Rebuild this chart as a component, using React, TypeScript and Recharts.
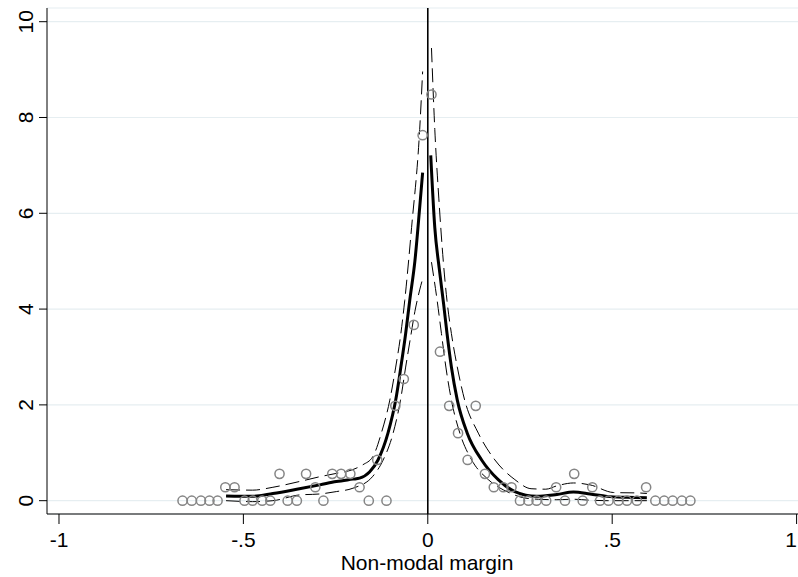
import { ComposedChart, Line, Scatter, XAxis, YAxis, CartesianGrid, ReferenceLine } from "recharts";

// binned density (hollow circles)
const binX = [
  -0.665, -0.64, -0.615, -0.592, -0.57, -0.549, -0.524, -0.497, -0.475, -0.449, -0.427, -0.402,
  -0.38, -0.355, -0.33, -0.305, -0.283, -0.259, -0.235, -0.21, -0.185, -0.16, -0.137, -0.112,
  -0.088, -0.065, -0.038, -0.014,
  0.01, 0.033, 0.058, 0.082, 0.108, 0.13, 0.155, 0.179, 0.205, 0.227, 0.25, 0.273, 0.295, 0.321,
  0.348, 0.372, 0.397, 0.42, 0.446, 0.467, 0.49, 0.517, 0.54, 0.567, 0.592, 0.617, 0.641, 0.664,
  0.689, 0.712,
];
const binY = [
  0, 0, 0, 0, 0, 0.28, 0.28, 0, 0, 0, 0, 0.56,
  0, 0, 0.56, 0.28, 0, 0.56, 0.56, 0.56, 0.28, 0, 0.85, 0,
  1.98, 2.54, 3.67, 7.63,
  8.48, 3.11, 1.98, 1.41, 0.85, 1.98, 0.56, 0.28, 0.28, 0.28, 0, 0, 0, 0,
  0.28, 0, 0.56, 0, 0.28, 0, 0, 0, 0, 0, 0.28, 0, 0, 0,
  0, 0,
];

// left side fit + CI
const leftFitX = [-0.547, -0.475, -0.42, -0.348, -0.293, -0.248, -0.203, -0.185, -0.158, -0.135, -0.108, -0.087, -0.073, -0.06, -0.049, -0.035, -0.022, -0.014];
const leftFitY = [0.1, 0.09, 0.15, 0.25, 0.33, 0.4, 0.45, 0.47, 0.6, 0.85, 1.41, 2.1, 2.79, 3.49, 4.18, 5.0, 6.12, 6.85];
const leftUpX = [-0.547, -0.475, -0.42, -0.348, -0.293, -0.248, -0.203, -0.176, -0.149, -0.126, -0.103, -0.087, -0.073, -0.0625, -0.044, -0.022, -0.014];
const leftUpY = [0.23, 0.22, 0.28, 0.4, 0.5, 0.57, 0.65, 0.75, 0.92, 1.41, 2.1, 2.79, 3.49, 4.18, 5.7, 7.75, 8.96];
const leftLoX = [-0.547, -0.475, -0.42, -0.348, -0.293, -0.248, -0.203, -0.149, -0.121, -0.094, -0.074, -0.06, -0.047, -0.035, -0.022, -0.014];
const leftLoY = [0.0, -0.02, 0.0, 0.12, 0.14, 0.19, 0.26, 0.51, 0.85, 1.41, 2.1, 2.79, 3.4, 3.95, 4.4, 4.63];

// right side fit + CI
const rightFitX = [0.008, 0.019, 0.031, 0.043, 0.052, 0.064, 0.08, 0.107, 0.146, 0.191, 0.236, 0.295, 0.35, 0.395, 0.44, 0.486, 0.54, 0.594];
const rightFitY = [7.21, 5.7, 4.85, 4.1, 3.5, 2.79, 2.1, 1.41, 0.85, 0.44, 0.19, 0.09, 0.13, 0.18, 0.14, 0.09, 0.07, 0.06];
const rightUpX = [0.01, 0.019, 0.03, 0.042, 0.052, 0.064, 0.08, 0.1, 0.137, 0.182, 0.236, 0.28, 0.32, 0.35, 0.395, 0.44, 0.504, 0.576, 0.594];
const rightUpY = [9.45, 7.75, 6.3, 5.0, 4.18, 3.49, 2.79, 2.1, 1.41, 0.85, 0.44, 0.25, 0.24, 0.31, 0.37, 0.33, 0.17, 0.16, 0.15];
const rightLoX = [0.01, 0.025, 0.037, 0.049, 0.064, 0.087, 0.119, 0.164, 0.223, 0.26, 0.3, 0.35, 0.395, 0.44, 0.486, 0.54, 0.594];
const rightLoY = [4.98, 4.2, 3.49, 2.79, 2.1, 1.41, 0.85, 0.44, 0.16, 0.06, 0.03, 0.02, 0.03, 0.01, 0.0, 0.0, 0.0];

const xTicks = [-1, -0.5, 0, 0.5, 1];
const xTickLabels = ["-1", "-.5", "0", ".5", "1"];
const yTicks = [0, 2, 4, 6, 8, 10];

const zip = (xs: number[], ys: number[]) => xs.map((x, i) => ({ x, y: ys[i] }));

const points = zip(binX, binY);
const leftFit = zip(leftFitX, leftFitY);
const leftUp = zip(leftUpX, leftUpY);
const leftLo = zip(leftLoX, leftLoY);
const rightFit = zip(rightFitX, rightFitY);
const rightUp = zip(rightUpX, rightUpY);
const rightLo = zip(rightLoX, rightLoY);

const W = 798;
const font = "'Liberation Sans', Arial, Helvetica, sans-serif";

const XTick = (props: any) => {
  const { x, y, payload } = props;
  const i = xTicks.indexOf(payload.value);
  // keep the last label inside the picture
  const tx = Math.min(x, W - 7);
  return (
    <text x={tx} y={y} dy={23} textAnchor="middle" fontSize={21} fontFamily={font} fill="#000">
      {i >= 0 ? xTickLabels[i] : payload.value}
    </text>
  );
};

const YTick = (props: any) => {
  const { x, y, payload } = props;
  const bx = x - 6;
  return (
    <text x={bx} y={y} transform={`rotate(-90, ${bx}, ${y})`} textAnchor="middle" fontSize={21} fontFamily={font} fill="#000">
      {payload.value}
    </text>
  );
};

const Circle = (props: any) => (
  <circle cx={props.cx} cy={props.cy} r={4.6} fill="none" stroke="#858585" strokeWidth={1.5} />
);

const XTitle = (props: any) => {
  const vb = props.viewBox;
  return (
    <text x={vb.x + vb.width / 2 + 4.5} y={vb.y + 56} textAnchor="middle" fontSize={21} fontFamily={font} fill="#000">
      Non-modal margin
    </text>
  );
};

const dash = "14 6";

export default function App() {
  return (
    <div style={{ position: "absolute", left: 0, top: 0, background: "#fff" }}>
      <ComposedChart width={W} height={577} margin={{ top: 8, right: 0, bottom: 0, left: 0 }}>
        <CartesianGrid vertical={false} stroke="#e6eef1" strokeWidth={1.2} />
        <XAxis
          type="number"
          dataKey="x"
          domain={[-1.0325, 1.0038]}
          ticks={xTicks}
          allowDataOverflow
          height={63}
          tickSize={10}
          tickMargin={0}
          stroke="#000"
          tick={<XTick />}
          label={<XTitle />}
        />
        <YAxis
          type="number"
          dataKey="y"
          domain={[-0.278, 10.286]}
          ticks={yTicks}
          allowDataOverflow
          width={47}
          tickSize={8}
          tickMargin={0}
          stroke="#000"
          tick={<YTick />}
        />
        <Scatter data={points} dataKey="y" shape={<Circle />} isAnimationActive={false} />
        <ReferenceLine x={0} stroke="#000" strokeWidth={1.6} />
        <Line data={leftUp} dataKey="y" type="monotone" stroke="#000" strokeWidth={1} strokeDasharray={dash} dot={false} activeDot={false} isAnimationActive={false} />
        <Line data={leftLo} dataKey="y" type="monotone" stroke="#000" strokeWidth={1} strokeDasharray={dash} dot={false} activeDot={false} isAnimationActive={false} />
        <Line data={rightUp} dataKey="y" type="monotone" stroke="#000" strokeWidth={1} strokeDasharray={dash} dot={false} activeDot={false} isAnimationActive={false} />
        <Line data={rightLo} dataKey="y" type="monotone" stroke="#000" strokeWidth={1} strokeDasharray={dash} dot={false} activeDot={false} isAnimationActive={false} />
        <Line data={leftFit} dataKey="y" type="monotone" stroke="#000" strokeWidth={3} dot={false} activeDot={false} isAnimationActive={false} />
        <Line data={rightFit} dataKey="y" type="monotone" stroke="#000" strokeWidth={3} dot={false} activeDot={false} isAnimationActive={false} />
      </ComposedChart>
    </div>
  );
}
